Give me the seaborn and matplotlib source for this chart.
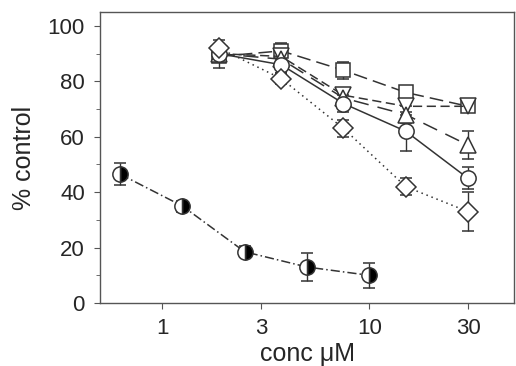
import matplotlib
matplotlib.use("Agg")
import matplotlib.pyplot as plt
import seaborn as sns

# concentrations (uM)
conc_half = [0.625, 1.25, 2.5, 5, 10]
conc = [1.875, 3.75, 7.5, 15, 30]

# % control values and SEM
half_vals = [46.5, 35, 18.5, 13, 10]
half_err = [4, 2, 2, 5, 4.5]
square_vals = [89, 91, 84, 76, 71]
square_err = [4, 3, 3, 2, 2]
down_vals = [90, 89, 75, 71, 71]
down_err = [3, 2, 2, 3, 2]
up_vals = [90, 88, 74, 68, 57]
up_err = [3, 2, 2, 3, 5]
circle_vals = [90, 86, 72, 62, 45]
circle_err = [3, 3, 3, 7, 4]
diamond_vals = [92, 81, 63, 42, 33]
diamond_err = [3, 2, 3, 3, 7]

xticks = [1, 3, 10, 30]

sns.set_style("ticks")
plt.rcParams["font.family"] = ["Liberation Sans", "DejaVu Sans"]

fig = plt.figure(figsize=(5.16, 3.66), dpi=100)
ax = fig.add_axes([0.194, 0.172, 0.802, 0.795])

lc = "#333333"
common = dict(color=lc, ecolor=lc, elinewidth=1, capsize=4, capthick=1,
              markeredgecolor=lc, markeredgewidth=1.1, lw=1.1)

ax.errorbar(conc, square_vals, yerr=square_err, marker="s", ms=10,
            mfc="white", dashes=(9, 4), **common)
ax.errorbar(conc, down_vals, yerr=down_err, marker="v", ms=11,
            mfc="white", dashes=(6, 3), **common)
ax.errorbar(conc, up_vals, yerr=up_err, marker="^", ms=11,
            mfc="white", dashes=(10, 6), **common)
ax.errorbar(conc, circle_vals, yerr=circle_err, marker="o", ms=11,
            mfc="white", ls="-", **common)
ax.errorbar(conc, diamond_vals, yerr=diamond_err, marker="D", ms=10,
            mfc="white", dashes=(1, 2.5), **common)
ax.errorbar(conc_half, half_vals, yerr=half_err, marker="o", ms=11,
            fillstyle="right", mfc="black", markerfacecoloralt="white",
            dashes=(6, 2, 1, 2), **common)

ax.set_xscale("log")
ax.set_xlim(0.5, 50)
ax.set_ylim(0, 105)
ax.set_xticks(xticks)
ax.set_xticklabels([str(t) for t in xticks])
ax.xaxis.set_minor_locator(matplotlib.ticker.NullLocator())
ax.set_yticks([0, 20, 40, 60, 80, 100])
ax.set_yticks(range(10, 100, 20), minor=True)

for s in ax.spines.values():
    s.set_color("#555555")
    s.set_linewidth(1)
ax.tick_params(axis="both", which="major", labelsize=16, length=4,
               color="#555555", pad=7)
ax.tick_params(axis="y", which="minor", length=3, color="#555555")

ax.set_xlabel("conc μM", fontsize=18, labelpad=2)
ax.set_ylabel("% control", fontsize=18, labelpad=8)

fig.savefig("out.png", dpi=100)
